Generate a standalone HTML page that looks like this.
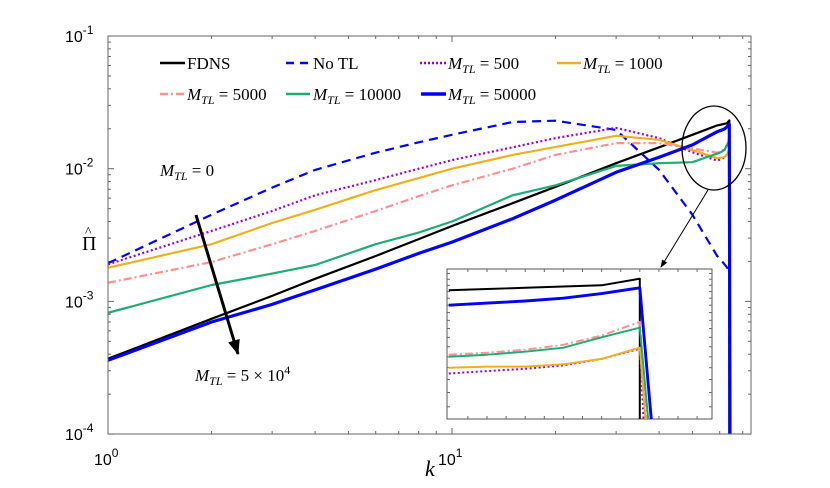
<!DOCTYPE html>
<html><head><meta charset="utf-8"><style>
html,body{margin:0;background:#fff;overflow:hidden;width:830px;height:488px;}
svg{display:block;font-family:"Liberation Sans",sans-serif;}
.lx{font-family:"Liberation Serif",serif;font-size:17px;}
</style></head><body>
<svg id="chart" width="830" height="488" viewBox="0 0 830 488" xmlns="http://www.w3.org/2000/svg">
<defs>
<clipPath id="clipMain"><rect x="108" y="36" width="643" height="398"/></clipPath>
<clipPath id="clipInset"><rect x="447" y="269" width="265" height="150"/></clipPath>
<marker id="ah" markerUnits="userSpaceOnUse" markerWidth="16" markerHeight="16" refX="14" refY="8" orient="auto"><path d="M0,2 L15,8 L0,14 z" fill="#000"/></marker>
<marker id="ah2" markerUnits="userSpaceOnUse" markerWidth="8" markerHeight="8" refX="7" refY="4" orient="auto"><path d="M0,1 L8,4 L0,7 z" fill="#000"/></marker>
</defs>
<rect x="108" y="36" width="643" height="398" fill="#fff"/>
<g id="mainTicks"></g>
<g id="mainLines" clip-path="url(#clipMain)"></g>
<rect x="108" y="36" width="643" height="398" fill="none" stroke="#666" stroke-width="1"/>
<g id="labels"></g>

<g>
 <g><line x1="160" y1="63" x2="185" y2="63" stroke="#000" stroke-width="2.5"/><text x="187" y="69" class="lx">FDNS</text></g>
 <g><line x1="286" y1="63" x2="310" y2="63" stroke="#0000ff" stroke-width="2.5" stroke-dasharray="8,6"/><text x="313" y="69" class="lx">No TL</text></g>
 <g><line x1="420" y1="63" x2="446" y2="63" stroke="#9400ee" stroke-width="2.5" stroke-dasharray="2,2"/><text x="448" y="69" class="lx"><tspan font-style="italic">M</tspan><tspan font-style="italic" font-size="12" dy="4">TL</tspan><tspan dy="-4"> = 500</tspan></text></g>
 <g><line x1="557" y1="63" x2="581" y2="63" stroke="#edb120" stroke-width="2.5"/><text x="583" y="69" class="lx"><tspan font-style="italic">M</tspan><tspan font-style="italic" font-size="12" dy="4">TL</tspan><tspan dy="-4"> = 1000</tspan></text></g>
 <g><line x1="160" y1="94" x2="185" y2="94" stroke="#ff9090" stroke-width="2.5" stroke-dasharray="8,3,2,3"/><text x="187" y="100" class="lx"><tspan font-style="italic">M</tspan><tspan font-style="italic" font-size="12" dy="4">TL</tspan><tspan dy="-4"> = 5000</tspan></text></g>
 <g><line x1="286" y1="94" x2="310" y2="94" stroke="#1eac72" stroke-width="2.5"/><text x="313" y="100" class="lx"><tspan font-style="italic">M</tspan><tspan font-style="italic" font-size="12" dy="4">TL</tspan><tspan dy="-4"> = 10000</tspan></text></g>
 <g><line x1="421" y1="94" x2="446" y2="94" stroke="#0000ff" stroke-width="3.5"/><text x="448" y="100" class="lx"><tspan font-style="italic">M</tspan><tspan font-style="italic" font-size="12" dy="4">TL</tspan><tspan dy="-4"> = 50000</tspan></text></g>
</g>

<ellipse cx="714" cy="148" rx="32" ry="42" fill="none" stroke="#000" stroke-width="1.3"/>
<line x1="708" y1="190" x2="661" y2="267" stroke="#000" stroke-width="1" marker-end="url(#ah2)"/>
<line x1="196" y1="215" x2="238" y2="354" stroke="#000" stroke-width="3" marker-end="url(#ah)"/>
<text x="160" y="176" class="lx" font-size="18"><tspan font-style="italic">M</tspan><tspan font-style="italic" font-size="12" dy="4">TL</tspan><tspan dy="-4"> = 0</tspan></text>
<text x="195" y="381" class="lx"><tspan font-style="italic">M</tspan><tspan font-style="italic" font-size="12" dy="4">TL</tspan><tspan dy="-4"> = 5 × 10</tspan><tspan font-size="12" dy="-7">4</tspan></text>

<rect x="447" y="269" width="265" height="150" fill="#fff" stroke="#555" stroke-width="1"/>
<g id="insetTicks"></g>
<g id="insetLines" clip-path="url(#clipInset)"></g>
</svg>
<script>
const kVals = [1,2,3,4,6,8,10,15,20,30,40,50,59,60,61,62,63,64];
const fdns  = [3.7e-4,7.4e-4,1.1e-3,1.48e-3,2.2e-3,2.95e-3,3.7e-3,5.5e-3,7.3e-3,0.011,0.0145,0.018,0.0212,0.0214,0.0216,0.0218,0.022,0.0231];
const noTL  = [1.94e-3,4.5e-3,7.2e-3,9.8e-3,0.0132,0.0158,0.018,0.0225,0.023,0.0196,0.0098,0.0045,0.0022,0.0021,0.0020,0.0019,0.0018,0.0017];
const m500  = [1.9e-3,3.4e-3,4.8e-3,6.3e-3,8.2e-3,1.0e-2,1.16e-2,1.45e-2,1.7e-2,2.03e-2,1.7e-2,1.33e-2,0.0115,0.0117,0.0119,0.0122,0.0128,0.0138];
const m1000 = [1.79e-3,2.7e-3,3.9e-3,4.9e-3,6.9e-3,8.5e-3,1.0e-2,1.27e-2,1.46e-2,1.77e-2,1.65e-2,1.38e-2,0.012,0.0121,0.0121,0.0123,0.0128,0.0139];
const m5000 = [1.38e-3,1.98e-3,2.7e-3,3.4e-3,4.8e-3,6.2e-3,7.5e-3,1.0e-2,1.27e-2,1.56e-2,1.56e-2,1.42e-2,0.0132,0.0134,0.0137,0.0142,0.0152,0.0168];
const m10000= [8.2e-4,1.33e-3,1.62e-3,1.88e-3,2.7e-3,3.3e-3,4.0e-3,6.3e-3,7.5e-3,0.0105,0.011,0.0112,0.013,0.0132,0.0135,0.0139,0.015,0.0161];
const m50000= [3.6e-4,7.0e-4,9.5e-4,1.22e-3,1.75e-3,2.3e-3,2.8e-3,4.2e-3,5.8e-3,9.4e-3,0.0122,0.0151,0.019,0.0193,0.0196,0.02,0.0207,0.0216];
const xTickLabels = ["0","1"];
const yTickLabels = ["-1","-2","-3","-4"];

const NS="http://www.w3.org/2000/svg";
function X(k){return 108+344*Math.log10(k);}
function Y(v){return 36+132.7*(-1-Math.log10(v));}
function IX(k){return 487+38.2*(k-60);}
function IY(v){return 269+313*(Math.log10(0.0248)-Math.log10(v));}
function mk(tag,attrs,parent){const e=document.createElementNS(NS,tag);for(const a in attrs)e.setAttribute(a,attrs[a]);parent.appendChild(e);return e;}

const series=[
 {d:fdns,name:'series-fdns',c:'#000',w:2.2,dash:'',drop:64.0},
 {d:noTL,name:'series-no-tl',c:'#0000ff',w:2.2,dash:'9,6',drop:64.1},
 {d:m500,name:'series-m500',c:'#9400ee',w:2.2,dash:'2,2.5',drop:64.1},
 {d:m1000,name:'series-m1000',c:'#edb120',w:2.2,dash:'',drop:64.15},
 {d:m5000,name:'series-m5000',c:'#ff9090',w:2.2,dash:'8,3,2,3',drop:64.2},
 {d:m10000,name:'series-m10000',c:'#1eac72',w:2.2,dash:'',drop:64.22},
 {d:m50000,name:'series-m50000',c:'#0000ff',w:3.2,dash:'',drop:64.3}
];
const gm=document.getElementById('mainLines'), gi=document.getElementById('insetLines');
series.forEach(s=>{
 let pts=kVals.map((k,i)=>X(k).toFixed(1)+','+Y(s.d[i]).toFixed(1));
 pts.push(X(s.drop).toFixed(1)+','+Y(1e-4).toFixed(1));
 const p=mk('polyline',{points:pts.join(' '),fill:'none',stroke:s.c,'stroke-width':s.w,'stroke-dasharray':s.dash,'stroke-linejoin':'round'},gm);
 
 
 if(s.name!=='series-no-tl'){
  let ip=[];
  kVals.forEach((k,i)=>{if(k>=59)ip.push(IX(k).toFixed(1)+','+IY(s.d[i]).toFixed(1));});
  ip.push(IX(s.drop).toFixed(1)+','+IY(0.0082).toFixed(1));
  const q=mk('polyline',{points:ip.join(' '),fill:'none',stroke:s.c,'stroke-width':s.w*0.9,'stroke-dasharray':s.dash,'stroke-linejoin':'round'},gi);
  
  
 }
});

const gt=document.getElementById('mainTicks');
for(let d=0;d<2;d++)for(let m=1;m<10;m++){const k=m*Math.pow(10,d);const x=X(k);if(x>751)break;
 const L=m===1?6:3;
 mk('line',{x1:x,y1:434,x2:x,y2:434-L,stroke:'#666'},gt);mk('line',{x1:x,y1:36,x2:x,y2:36+L,stroke:'#666'},gt);}
for(let d=-4;d<-1+1e-9;d++)for(let m=1;m<10;m++){const v=m*Math.pow(10,d);if(v>0.1+1e-9)break;const y=Y(v);
 const L=m===1?6:3;
 mk('line',{x1:108,y1:y,x2:108+L,y2:y,stroke:'#666'},gt);mk('line',{x1:751,y1:y,x2:751-L,y2:y,stroke:'#666'},gt);}
const gl=document.getElementById('labels');
xTickLabels.forEach((e,i)=>{const t=mk('text',{x:X(Math.pow(10,i))-14,y:465,'font-size':'16'},gl);
 
 
 t.innerHTML='10<tspan font-size="12" dy="-8">'+e+'</tspan>';});
yTickLabels.forEach((e,i)=>{const t=mk('text',{x:65,y:Y(Math.pow(10,-1-i))+6,'font-size':'16'},gl);
 
 
 t.innerHTML='10<tspan font-size="12" dy="-8">'+e+'</tspan>';});
const xt=mk('text',{x:425,y:476,'font-size':'22','font-style':'italic','font-family':'Liberation Serif, serif'},gl);


xt.textContent='k';
const yt=mk('text',{x:82,y:250,'font-size':'20','font-family':'Liberation Serif, serif'},gl);


yt.textContent='Π';
const yh=mk('text',{x:85,y:236,'font-size':'14','font-family':'Liberation Serif, serif'},gl);


yh.textContent='^';

const git=document.getElementById('insetTicks');
for(let k=59.5;k<66;k+=0.5){const x=IX(k);if(x<447||x>712)continue;
 mk('line',{x1:x,y1:419,x2:x,y2:416,stroke:'#666'},git);mk('line',{x1:x,y1:269,x2:x,y2:272,stroke:'#666'},git);}
for(let v=0.009;v<0.025;v+=0.001){const y=IY(v);
 mk('line',{x1:447,y1:y,x2:450,y2:y,stroke:'#666'},git);mk('line',{x1:712,y1:y,x2:709,y2:y,stroke:'#666'},git);}
</script>
</body></html>
